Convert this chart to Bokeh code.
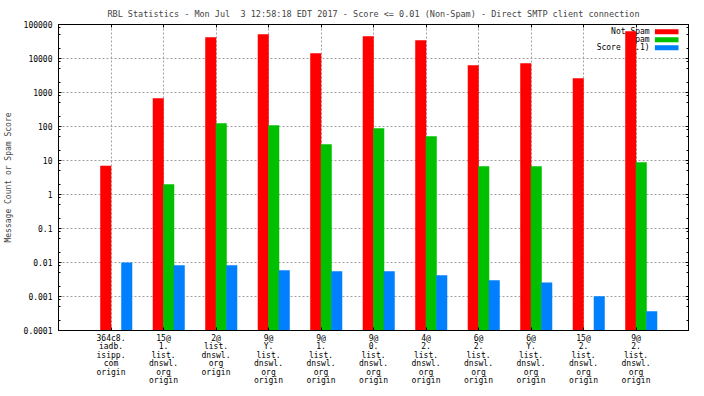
from bokeh.plotting import figure
from bokeh.models import (FixedTicker, CustomJSTickFormatter, LogAxis, LinearAxis,
                          Range1d, ColumnDataSource)
from bokeh.core.properties import value
from bokeh.embed import file_html
from bokeh.resources import INLINE

# ---------------- data ----------------
categories = [
    "364c8.\niadb.\nisipp.\ncom\norigin",
    "15@\n1.\nlist.\ndnswl.\norg\norigin",
    "2@\nlist.\ndnswl.\norg\norigin",
    "9@\nY.\nlist.\ndnswl.\norg\norigin",
    "9@\n1.\nlist.\ndnswl.\norg\norigin",
    "9@\n0.\nlist.\ndnswl.\norg\norigin",
    "4@\n2.\nlist.\ndnswl.\norg\norigin",
    "6@\n2.\nlist.\ndnswl.\norg\norigin",
    "6@\nY.\nlist.\ndnswl.\norg\norigin",
    "15@\n2.\nlist.\ndnswl.\norg\norigin",
    "9@\n2.\nlist.\ndnswl.\norg\norigin",
]
not_spam = [7, 680, 42300, 51800, 14300, 45300, 34500, 6350, 7280, 2640, 63500]
spam = [float("nan"), 2.0, 125, 109, 30, 89, 52, 6.8, 6.8, float("nan"), 8.9]
score = [0.0100, 0.0083, 0.0083, 0.0059, 0.0055, 0.0055, 0.0042, 0.0030, 0.0026, 0.00102, 0.00037]
series_names = ["Not Spam", "Spam", "Score (0.1)"]
y_ticks = [1e-4, 1e-3, 1e-2, 1e-1, 1, 10, 100, 1000, 10000, 100000]

title = "RBL Statistics - Mon Jul \u00a03 12:58:18 EDT 2017 - Score <= 0.01 (Non-Spam) - Direct SMTP client connection"
y_label = "Message Count or Spam Score"

colors = ["#ff0000", "#00c000", "#0080ff"]
FONT = "DejaVu Sans Mono"
FS = "8px"

idx = list(range(len(categories)))
YMIN, YMAX = y_ticks[0], y_ticks[-1]

p = figure(width=696, height=388, x_range=Range1d(-1, 11), y_range=Range1d(YMIN, YMAX),
           y_axis_type="log", output_backend="svg", toolbar_location=None,
           min_border_left=56, min_border_right=8, min_border_top=24, min_border_bottom=57,
           title=title)
p.background_fill_color = "white"
p.border_fill_color = "white"
p.outline_line_color = "black"

p.title.text_font = FONT
p.title.text_font_size = "8.5px"
p.title.text_font_style = "normal"
p.title.align = "center"
p.title.standoff = 12

# ---------------- legend (drawn first, bars cover it like the original) -------------
row_log = [5 - (7.2 + 8 * i) / 34 for i in range(3)]
half = 2.5 / 34
p.text(x=[10.26] * 3, y=[10 ** r for r in row_log], text=series_names,
       text_font=value(FONT), text_font_size=FS, text_align="right",
       text_baseline="middle", text_color="black")
p.quad(left=[10.36] * 3, right=[10.81] * 3,
       top=[10 ** (r + half) for r in row_log], bottom=[10 ** (r - half) for r in row_log],
       fill_color=colors, line_color=None)

# ---------------- bars ----------------
offsets = [-0.1, 0.1, 0.3]
W = 0.21
for vals, off, col in zip([not_spam, spam, score], offsets, colors):
    src = ColumnDataSource(dict(x=[i + off for i in idx], top=vals, bottom=[YMIN] * len(vals)))
    p.vbar(x="x", top="top", bottom="bottom", width=W, source=src,
           fill_color=col, line_color=None)

# ---------------- axes ----------------
minor = [m * 10.0 ** e for e in range(-4, 5) for m in (2, 5, 8)]
yt = FixedTicker(ticks=y_ticks, minor_ticks=minor)
xt = FixedTicker(ticks=idx)

yax = p.yaxis[0]
yax.ticker = yt
yax.formatter = CustomJSTickFormatter(code="return tick >= 1 ? tick.toFixed(0) : tick.toPrecision(1);")
yax.axis_label = y_label
yax.axis_label_text_font = FONT
yax.axis_label_text_font_size = FS
yax.axis_label_text_font_style = "normal"
yax.axis_label_standoff = 8
yax.major_label_text_font = FONT
yax.major_label_text_font_size = FS
yax.major_label_standoff = 6

xax = p.xaxis[0]
xax.ticker = xt
xax.major_label_overrides = {i: c for i, c in zip(idx, categories)}
xax.major_label_text_font = FONT
xax.major_label_text_font_size = FS
xax.major_label_text_line_height = 0.95
xax.major_label_standoff = 3

blank = CustomJSTickFormatter(code="return '';")
rax = LogAxis(ticker=yt, formatter=blank, major_label_standoff=0)
tax = LinearAxis(ticker=xt, formatter=blank, major_label_standoff=0)
p.add_layout(rax, "right")
p.add_layout(tax, "above")

for ax in [yax, xax, rax, tax]:
    ax.major_tick_in = 3
    ax.major_tick_out = 0
    ax.minor_tick_in = 2
    ax.minor_tick_out = 0
    ax.axis_line_color = "black"
    ax.major_tick_line_color = "black"
    ax.major_label_text_color = "black"
for ax in [xax, tax]:
    ax.minor_tick_line_color = None

# ---------------- grid ----------------
p.xgrid.ticker = xt
p.ygrid.ticker = FixedTicker(ticks=y_ticks)
for g in [p.xgrid[0], p.ygrid[0]]:
    g.grid_line_color = "#a0a0a0"
    g.grid_line_dash = "2 2"
    g.grid_line_width = 1

open("out.html", "w").write(file_html(p, INLINE))
